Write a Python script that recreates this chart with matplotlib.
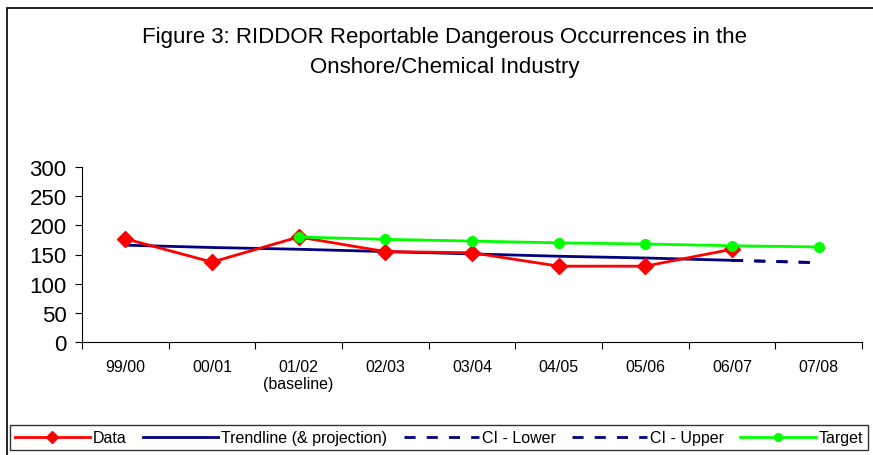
import matplotlib.pyplot as plt
from matplotlib.patches import Rectangle

plt.rcParams['font.family'] = ['Liberation Sans', 'DejaVu Sans']

years = ['99/00', '00/01', '01/02\n(baseline)', '02/03', '03/04', '04/05', '05/06', '06/07', '07/08']
data = [177, 137, 180, 155, 153, 130, 130, 159]
trend = [166, 162, 159, 155, 151, 147, 144, 140]
ciLower = [140, 136]
ciUpper = [140, 136]
target = [180, 176, 173, 170, 168, 165, 163]

fig = plt.figure(figsize=(8.73, 4.56), dpi=100)
fig.patches.append(Rectangle((7 / 873, -0.1), 2, 1 - 9 / 456 + 0.1, transform=fig.transFigure,
                             fill=False, edgecolor='black', linewidth=1.2))
ax = fig.add_axes([82 / 873, 1 - 343 / 456, (862 - 82) / 873, 175 / 456])

x = list(range(len(years)))
hData, = ax.plot(x[:len(data)], data, color='red', linewidth=2, marker='D', markersize=8, label='Data', zorder=4)
hTrend, = ax.plot(x[:len(trend)], trend, color='#000080', linewidth=2, label='Trendline (& projection)', zorder=3)
hLow, = ax.plot(x[7:9], ciLower, color='#000080', linewidth=2, linestyle=(0, (4, 4)), label='CI - Lower', zorder=3)
hUp, = ax.plot(x[7:9], ciUpper, color='#000080', linewidth=2, linestyle=(0, (4, 4)), label='CI - Upper', zorder=3)
hTarget, = ax.plot(x[2:], target, color='#00ff00', linewidth=2, marker='o', markersize=7, label='Target', zorder=5)

ax.set_xlim(-0.5, len(years) - 0.5)
ax.set_ylim(0, 300)
ax.set_yticks(range(0, 301, 50))
ax.set_xticks([i - 0.5 for i in range(len(years) + 1)])
ax.set_xticklabels([])
ax.set_xticks(x, minor=True)
ax.set_xticklabels(years, minor=True, fontsize=11.5)
ax.tick_params(axis='x', which='minor', length=0, pad=12)
ax.tick_params(axis='x', which='major', length=5, direction='out')
ax.tick_params(axis='y', labelsize=16, length=5, pad=6)
for s in ['top', 'right']:
    ax.spines[s].set_visible(False)

fig.text(445 / 873, 1 - 37 / 456, 'Figure 3: RIDDOR Reportable Dangerous Occurrences in the',
         ha='center', va='center', fontsize=16)
fig.text(445 / 873, 1 - 68 / 456, 'Onshore/Chemical Industry', ha='center', va='center', fontsize=16)

leg = fig.legend(handles=[hData, hTrend, hLow, hUp, hTarget], loc='lower left',
                 bbox_to_anchor=(10 / 873, 1 - 451 / 456, 858 / 873, 27 / 456), mode='expand',
                 ncol=5, fontsize=11.5, frameon=True, fancybox=False, handlelength=4.7,
                 handletextpad=0.2, columnspacing=0.6, borderpad=0.3, borderaxespad=0,
                 markerscale=0.8)
leg.get_frame().set_edgecolor('black')
leg.get_frame().set_linewidth(1)

fig.savefig('out.png', dpi=100)
